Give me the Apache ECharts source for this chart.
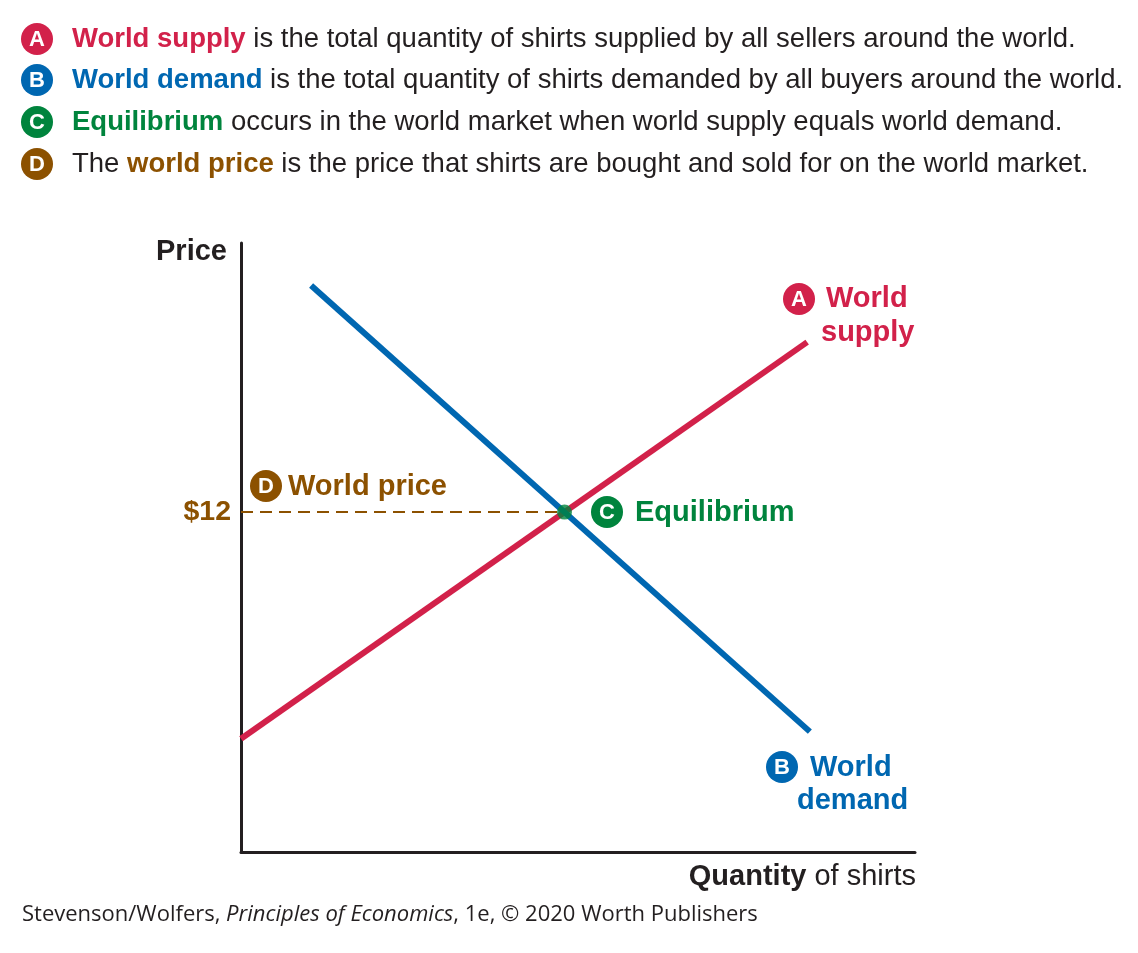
<!DOCTYPE html>
<html>
<head>
<meta charset="utf-8">
<script src="https://cdn.jsdelivr.net/npm/echarts@6/dist/echarts.min.js"></script>
<style>html,body{margin:0;padding:0;background:#fff;}#c{width:1138px;height:953px;}</style>
</head>
<body>
<div id="c"></div>
<script>
// ---- data ----
var supplyPoints = [[0, 4], [84, 18]];
var demandPoints = [[10.4, 20], [84.4, 4.25]];
var equilibrium = [[48, 12]];
var worldPriceLine = [[0, 12], [48, 12]];
var yTickValues = [12];
var xRange = [0, 100];
var yRange = [0, 21.5];

var RED = '#d2214a', BLUE = '#0067b1', GREEN = '#00843d', BROWN = '#8c5100', INK = '#231f20';
var FONT = '"Liberation Sans", Arial, Helvetica, sans-serif';
var FOOT = '"Open Sans", sans-serif';

function badge(cx, cy, letter, color) {
  return { type: 'group', children: [
    { type: 'circle', shape: { cx: cx, cy: cy, r: 16 }, style: { fill: color } },
    { type: 'text', x: cx, y: cy + 1, style: { text: letter, fill: '#fff', font: 'bold 22px ' + FONT, align: 'center', verticalAlign: 'middle' } }
  ] };
}
function label(x, y, txt, color, size, align) {
  return { type: 'text', x: x, y: y, style: { text: txt, fill: color, font: 'bold ' + size + 'px ' + FONT, align: align || 'left', verticalAlign: 'middle' } };
}
function st(color, bold, size) {
  return { fill: color, font: (bold ? 'bold ' : '') + size + 'px ' + FONT };
}
var HS = 27.5;
var headRich = {
  r: st(RED, true, HS), b: st(BLUE, true, HS), g: st(GREEN, true, HS), o: st(BROWN, true, HS),
  n: st(INK, false, HS)
};
function headLine(y, str) {
  return { type: 'text', x: 72, y: y, style: { text: str, rich: headRich, verticalAlign: 'middle' } };
}

var chart = echarts.init(document.getElementById('c'));
chart.setOption({
  animation: false,
  backgroundColor: '#fff',
  grid: { left: 241, right: 223, top: 243, bottom: 101 },
  xAxis: {
    type: 'value', min: xRange[0], max: xRange[1],
    axisLine: { show: true, lineStyle: { color: INK, width: 3 } },
    axisTick: { show: false }, axisLabel: { show: false }, splitLine: { show: false }
  },
  yAxis: {
    type: 'value', min: yRange[0], max: yRange[1],
    axisLine: { show: true, lineStyle: { color: INK, width: 3 } },
    axisTick: { show: false }, splitLine: { show: false },
    axisLabel: {
      customValues: yTickValues, formatter: function (v) { return '$' + v; },
      color: BROWN, fontWeight: 'bold', fontSize: 28.5, fontFamily: FONT, margin: 10
    }
  },
  series: [
    { type: 'line', data: worldPriceLine, symbol: 'none', lineStyle: { color: BROWN, width: 2, type: [12, 7] }, z: 1 },
    { type: 'line', data: supplyPoints, symbol: 'none', lineStyle: { color: RED, width: 6, cap: 'butt' }, z: 2 },
    { type: 'line', data: demandPoints, symbol: 'none', lineStyle: { color: BLUE, width: 6, cap: 'butt' }, z: 3 },
    { type: 'scatter', data: equilibrium, symbolSize: 15, itemStyle: { color: GREEN }, z: 5 }
  ],
  graphic: [
    badge(37, 39, 'A', RED), headLine(39, '{r|World supply}{n| is the total quantity of shirts supplied by all sellers around the world.}'),
    badge(37, 80, 'B', BLUE), headLine(80, '{b|World demand}{n| is the total quantity of shirts demanded by all buyers around the world.}'),
    badge(37, 122, 'C', GREEN), headLine(122, '{g|Equilibrium}{n| occurs in the world market when world supply equals world demand.}'),
    badge(37, 164, 'D', BROWN), headLine(164, '{n|The }{o|world price}{n| is the price that shirts are bought and sold for on the world market.}'),
    label(156, 252, 'Price', INK, 29),
    badge(266, 486, 'D', BROWN), label(288, 487, 'World price', BROWN, 29),
    badge(607, 512, 'C', GREEN), label(635, 513, 'Equilibrium', GREEN, 29),
    badge(799, 299, 'A', RED), label(826, 299, 'World', RED, 29), label(821, 333, 'supply', RED, 29),
    badge(782, 767, 'B', BLUE), label(810, 768, 'World', BLUE, 29), label(797, 801, 'demand', BLUE, 29),
    { type: 'text', x: 916, y: 877, style: { text: '{q|Quantity}{s| of shirts}', align: 'right', verticalAlign: 'middle', rich: {
      q: st(INK, true, 29), s: st(INK, false, 29) } } },
    { type: 'text', x: 22, y: 915, style: { text: '{a|Stevenson/Wolfers, }{i|Principles of Economics}{a|, 1e, © 2020 Worth Publishers}', verticalAlign: 'middle', rich: {
      a: { fill: INK, font: '22px ' + FOOT },
      i: { fill: INK, font: 'italic 22px ' + FOOT } } } }
  ]
});
</script>
</body>
</html>
